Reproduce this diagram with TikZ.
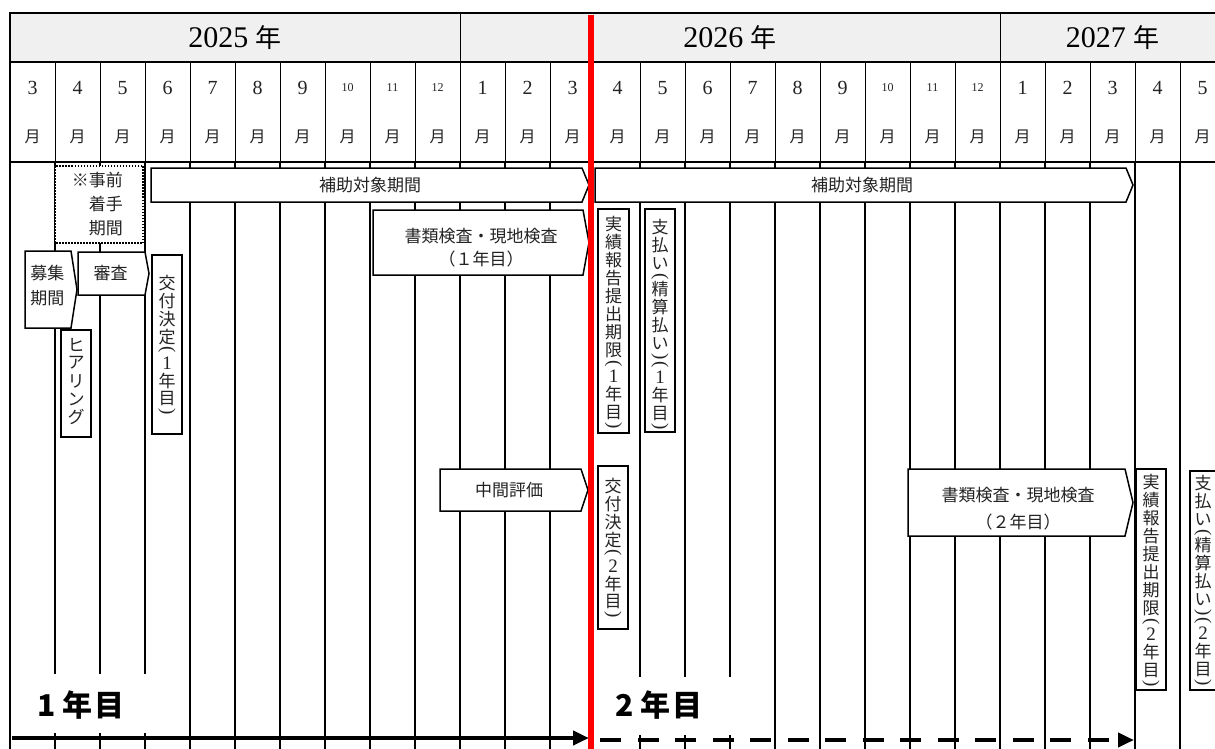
\documentclass[tikz,border=0pt]{standalone}
\usepackage{fontspec}
\usepackage{graphicx}
\newfontfamily\cjk{Noto Sans CJK JP}
\newfontfamily\serif{Liberation Serif}
\usetikzlibrary{arrows.meta}
\definecolor{hdrgray}{RGB}{240,240,240}
\definecolor{txtc}{RGB}{35,35,35}
\newcommand\vch[1]{\hbox to 20pt{\hss\vbox to 18pt{\vss\hbox{#1}\vss}\hss}}
\newcommand\vpo{\hbox to 20pt{\hss\vbox to 8pt{\vss\hbox{\serif\fontsize{19}{19}\selectfont\rotatebox{-90}{(}}\vss}\hss}}
\newcommand\vpc{\hbox to 20pt{\hss\vbox to 8pt{\vss\hbox{\serif\fontsize{19}{19}\selectfont\rotatebox{-90}{)}}\vss}\hss}}
\newcommand\vdg[1]{\vch{\serif\fontsize{19}{19}\selectfont #1}}
\newcommand\vt[1]{\vbox{\offinterlineskip #1}}
\newcommand\jtext[1]{\vt{\vch{実}\vch{績}\vch{報}\vch{告}\vch{提}\vch{出}\vch{期}\vch{限}\vpo\vdg{#1}\vch{年}\vch{目}\vpc}}
\newcommand\stext[1]{\vt{\vch{支}\vch{払}\vch{い}\vpo\vch{精}\vch{算}\vch{払}\vch{い}\vpc\vpo\vdg{#1}\vch{年}\vch{目}\vpc}}
\newcommand\ktext[1]{\vt{\vch{交}\vch{付}\vch{決}\vch{定}\vpo\vdg{#1}\vch{年}\vch{目}\vpc}}
\newcommand\chev[6]{%
  \draw[boxst] (#1,#2) -- ({#3-#5},#2) -- (#3,{(#2+#4)/2}) -- ({#3-#5},#4) -- (#1,#4) -- cycle;
  \coordinate (#6) at ({(#1+#3-#5)/2},{(#2+#4)/2});}
\newcommand\yrtxt[1]{#1 {\cjk\fontsize{26}{30}\selectfont 年}}
\tikzset{
  hdr/.style={line width=1pt},
  bodyln/.style={line width=1.6pt},
  frm/.style={line width=2pt},
  boxst/.style={draw=black, line width=1.5pt, fill=white},
  txt/.style={font=\cjk\fontsize{17}{23}\selectfont, text=txtc, inner sep=0pt, align=center},
  vtx/.style={font=\cjk\fontsize{17}{18}\selectfont, text=txtc, inner sep=0pt},
  yr/.style={font=\serif\fontsize{30}{32}\selectfont, inner sep=0pt},
  mon/.style={font=\serif\fontsize{20}{22}\selectfont, inner sep=0pt, text=txtc},
  monsm/.style={font=\serif\fontsize{12}{14}\selectfont, inner sep=0pt, text=txtc},
  tsuki/.style={font=\cjk\fontsize{16}{18}\selectfont, inner sep=0pt, text=txtc},
  yearlbl/.style={font=\cjk\bfseries\fontsize{30}{32}\selectfont, inner sep=0pt, anchor=west},
  arrowln/.style={line width=4.6pt, -{Triangle[length=16pt,width=14pt]}},
}
\begin{document}
\begin{tikzpicture}[x=1pt,y=-1pt]
\useasboundingbox (0,0) rectangle (1215,749);
\clip (0,0) rectangle (1215,749);
% header fill
\fill[hdrgray] (10,13) rectangle (1240,62);
% vertical lines
\foreach \k in {0,...,26}{
  \ifnum\k=12\relax\else
    \draw[hdr] ({55+45*\k},62) -- ({55+45*\k},162);
    \draw[bodyln] ({55+45*\k},162) -- ({55+45*\k},749);
  \fi}
\draw[hdr] (460,13) -- (460,62);
\draw[hdr] (1000,13) -- (1000,62);
\draw[frm] (9,13) -- (1240,13);
\draw[frm] (10,62) -- (1240,62);
\draw[frm] (10,162) -- (1240,162);
\draw[frm] (10,12) -- (10,749);
% year labels
\node[yr] (y2025) at (235,37.5) {\yrtxt{2025}};
\node[yr] (y2026) at (730,37.5) {\yrtxt{2026}};
\node[yr] (y2027) at (1112.5,37.5) {\yrtxt{2027}};
% month labels
\foreach \m [count=\i from 0] in {3,4,5,6,7,8,9,10,11,12,1,2,3,4,5,6,7,8,9,10,11,12,1,2,3,4,5}{
  \pgfmathsetmacro\xx{32.5+45*\i}
  \ifnum\m>9\relax
    \node[monsm] (mn\i) at (\xx,88) {\m};
  \else
    \node[mon] (mn\i) at (\xx,88) {\m};
  \fi
  \node[tsuki] (mt\i) at (\xx,137) {月};
}
% pre-start dotted box
\draw[draw=black, line width=1.5pt, fill=white, dash pattern=on 1.5pt off 1.5pt] (55,166) rectangle (143,243);
\node[txt, align=right, anchor=east, font=\cjk\fontsize{17}{24}\selectfont] (jizen) at (123,204.5) {※事前\\着手\\期間};
% chevrons
\chev{151}{168}{589}{202}{7}{hojo1c}
\node[txt] (hojo1) at (370,185) {補助対象期間};
\chev{595}{168}{1133}{202}{7}{hojo2c}
\node[txt] (hojo2) at (862,185) {補助対象期間};
\chev{373}{210}{589}{275}{6}{shorui1c}
\node[txt] (shorui1) at (481,247.5) {書類検査・現地検査\\（１年目）};
\chev{25}{251}{77}{328}{6}{boshuc}
\node[txt, font=\cjk\fontsize{17}{25}\selectfont] (boshu) at (47.5,285.5) {募集\\期間};
\chev{78}{252}{149}{295}{4}{shinsac}
\node[txt] (shinsa) at (110.5,273) {審査};
\chev{440}{469}{588}{511}{7}{chukanc}
\node[txt] (chukan) at (509,490) {中間評価};
\chev{908}{469}{1133}{536}{8}{shorui2c}
\node[txt, font=\cjk\fontsize{17}{27}\selectfont] (shorui2) at (1018,508.5) {書類検査・現地検査\\（２年目）};
% vertical boxes
\draw[boxst] (61,330) rectangle (91,437);
\node[vtx] (hearing) at (76,381) {\vt{\vch{ヒ}\vch{ア}\vch{リ}\vch{ン}\vch{グ}}};
\draw[boxst] (152,255) rectangle (182,434);
\node[vtx] (kofu1) at (167,345) {\ktext{1}};
\draw[boxst] (598,209) rectangle (629,433);
\node[vtx, anchor=north] (jisseki1) at (613.5,215) {\jtext{1}};
\draw[boxst] (645,209) rectangle (675,432);
\node[vtx, anchor=north] (shiharai1) at (660,218) {\stext{1}};
\draw[boxst] (598,466) rectangle (628,629);
\node[vtx] (kofu2) at (613,548) {\ktext{2}};
\draw[boxst] (1136,469) rectangle (1166,690);
\node[vtx, anchor=north] (jisseki2) at (1151,473) {\jtext{2}};
\draw[boxst] (1190,471) rectangle (1222,690);
\node[vtx, anchor=north] (shiharai2) at (1203,474) {\stext{2}};
% year-count labels
\fill[white] (13,674) rectangle (172,733);
\node[yearlbl] (nen1) at (37,705) {1\kern7pt 年\kern2pt 目};
\fill[white] (596,677) rectangle (762,735);
\node[yearlbl] (nen2) at (615,705) {2\kern7pt 年\kern2pt 目};
% bottom arrows
\coordinate (a1s) at (12,738);
\coordinate (a1e) at (589,738);
\draw[arrowln] (a1s) -- (a1e);
\coordinate (a2s) at (600,740);
\coordinate (a2e) at (1134,740);
\draw[arrowln, dash pattern=on 21pt off 16.5pt] (a2s) -- (a2e);
% red divider
\coordinate (rtop) at (590.8,15);
\coordinate (rbot) at (590.8,749);
\draw[red, line width=6.5pt] (rtop) -- (rbot);
\end{tikzpicture}
\end{document}
